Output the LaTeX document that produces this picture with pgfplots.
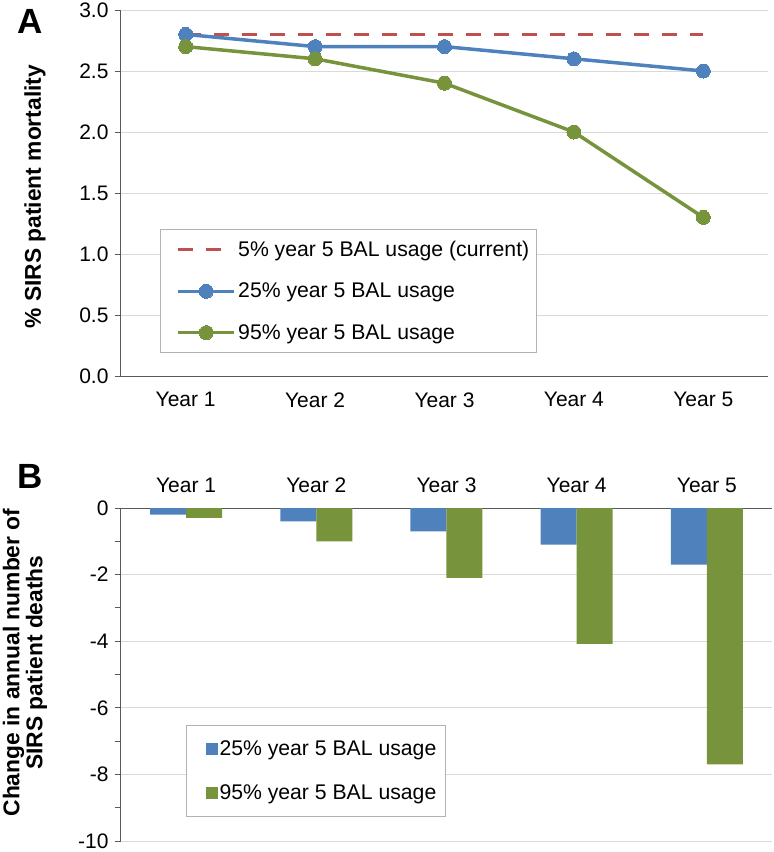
\documentclass[border=0pt]{standalone}
\usepackage{pgfplots}
\pgfplotsset{compat=1.18}
\usepackage{fontspec}
\setmainfont{Liberation Sans}
\definecolor{cblue}{HTML}{4F81BD}
\definecolor{cgreen}{HTML}{77933C}
\definecolor{cred}{HTML}{C0504D}
\definecolor{cgrid}{HTML}{D9D9D9}
\definecolor{caxis}{HTML}{595959}
\begin{document}
\begin{tikzpicture}
\useasboundingbox (0,0) rectangle (774pt,-852pt);
\node[font=\fontsize{35}{40}\selectfont\bfseries] at (30pt,-21pt) {A};
\node[font=\fontsize{35}{40}\selectfont\bfseries] at (30pt,-476pt) {B};
\begin{axis}[
  at={(121pt,-10pt)}, anchor=north west,
  scale only axis, width=647pt, height=366pt,
  xmin=0.5, xmax=5.5, ymin=0, ymax=3,
  xtick={1,2,3,4,5},
  xticklabels={Year 1,Year 2,Year 3,Year 4,Year 5},
  ytick={0,0.5,...,3.0},
  /pgf/number format/fixed, /pgf/number format/fixed zerofill, /pgf/number format/precision=1,
  /pgf/number format/assume math mode=true,
  axis x line*=bottom, axis y line*=left,
  axis line style={-, draw=caxis, line width=1pt},
  ymajorgrids, grid style={cgrid, line width=1pt},
  xtick style={draw=none},
  ytick style={draw=caxis, line width=1pt},
  tick align=outside, major tick length=6pt,
  tick label style={font=\fontsize{21}{24}\selectfont},
  xticklabel style={yshift=-7pt},
  yticklabel style={xshift=-3pt},
  every axis y label/.style={at={(axis description cs:-0.133,0.49)}, rotate=90, anchor=center},
  ylabel={\fontsize{22.8}{26}\selectfont\bfseries \% SIRS patient mortality},
  legend style={at={(axis description cs:0.060,0.402)}, anchor=north west,
    draw=gray!60, line width=0.8pt, font=\fontsize{21.2}{24}\selectfont,
    inner xsep=6pt, inner ysep=11pt, row sep=23pt,
    nodes={inner sep=1pt}},
  legend cell align=left,
  legend image code/.code={\path[draw=none,fill=none] (0pt,-1pt) rectangle (71pt,1pt);\draw[mark repeat=2,mark phase=2,#1] plot coordinates {(12pt,0pt) (40pt,0pt) (68pt,0pt)};},
]
\addplot[cred, line width=3.5pt, dash pattern=on 15pt off 13pt] coordinates {(1,2.8) (2,2.8) (3,2.8) (4,2.8) (5,2.8)};
\addlegendentry{5\% year 5 BAL usage (current)}
\addplot[cblue, line width=3.5pt, mark=*, mark size=7pt, mark options={fill=cblue, draw=cblue, line width=0pt}] coordinates {(1,2.8) (2,2.7) (3,2.7) (4,2.6) (5,2.5)};
\addlegendentry{25\% year 5 BAL usage}
\addplot[cgreen, line width=3.5pt, mark=*, mark size=7pt, mark options={fill=cgreen, draw=cgreen, line width=0pt}] coordinates {(1,2.7) (2,2.6) (3,2.4) (4,2.0) (5,1.3)};
\addlegendentry{95\% year 5 BAL usage}
\end{axis}
\begin{axis}[
  at={(121pt,-508pt)}, anchor=north west,
  scale only axis, width=651pt, height=333pt,
  xmin=0.5, xmax=5.5, ymin=-10, ymax=0,
  xtick={1,2,3,4,5},
  xticklabels={Year 1,Year 2,Year 3,Year 4,Year 5},
  xticklabel pos=top,
  ytick={-10,-8,...,0},
  minor y tick num=1,
  /pgf/number format/assume math mode=true,
  axis x line*=top, axis y line*=left,
  axis line style={-, draw=caxis, line width=1pt},
  ymajorgrids, grid style={cgrid, line width=1pt},
  xtick style={draw=none},
  ytick style={draw=caxis, line width=1pt},
  tick align=outside, major tick length=6pt, minor tick length=6pt,
  tick label style={font=\fontsize{21}{24}\selectfont},
  xticklabel style={yshift=6pt},
  yticklabel style={xshift=-3pt},
  every axis y label/.style={at={(axis description cs:-0.146,0.536)}, rotate=90, anchor=center},
  ylabel={\fontsize{22.8}{25}\selectfont\bfseries\begin{tabular}{c}Change in annual number of\\[-2pt] SIRS patient deaths\end{tabular}},
  ybar=0pt, bar width=36pt,
  legend style={at={(axis description cs:0.100,0.348)}, anchor=north west,
    draw=gray!60, line width=0.8pt, font=\fontsize{21.2}{24}\selectfont,
    inner xsep=8pt, inner ysep=14pt, row sep=26pt,
    nodes={inner sep=1pt}},
  legend cell align=left,
  legend image code/.code={\path[draw=none,fill=none] (0pt,-1pt) rectangle (24pt,1pt);\fill[#1,draw=none] (11pt,-6pt) rectangle (23pt,6pt);},
]
\addplot[fill=cblue, draw=none] coordinates {(1,-0.2) (2,-0.4) (3,-0.7) (4,-1.1) (5,-1.7)};
\addlegendentry{25\% year 5 BAL usage}
\addplot[fill=cgreen, draw=none] coordinates {(1,-0.3) (2,-1.0) (3,-2.1) (4,-4.08) (5,-7.7)};
\addlegendentry{95\% year 5 BAL usage}
\end{axis}
\end{tikzpicture}
\end{document}
